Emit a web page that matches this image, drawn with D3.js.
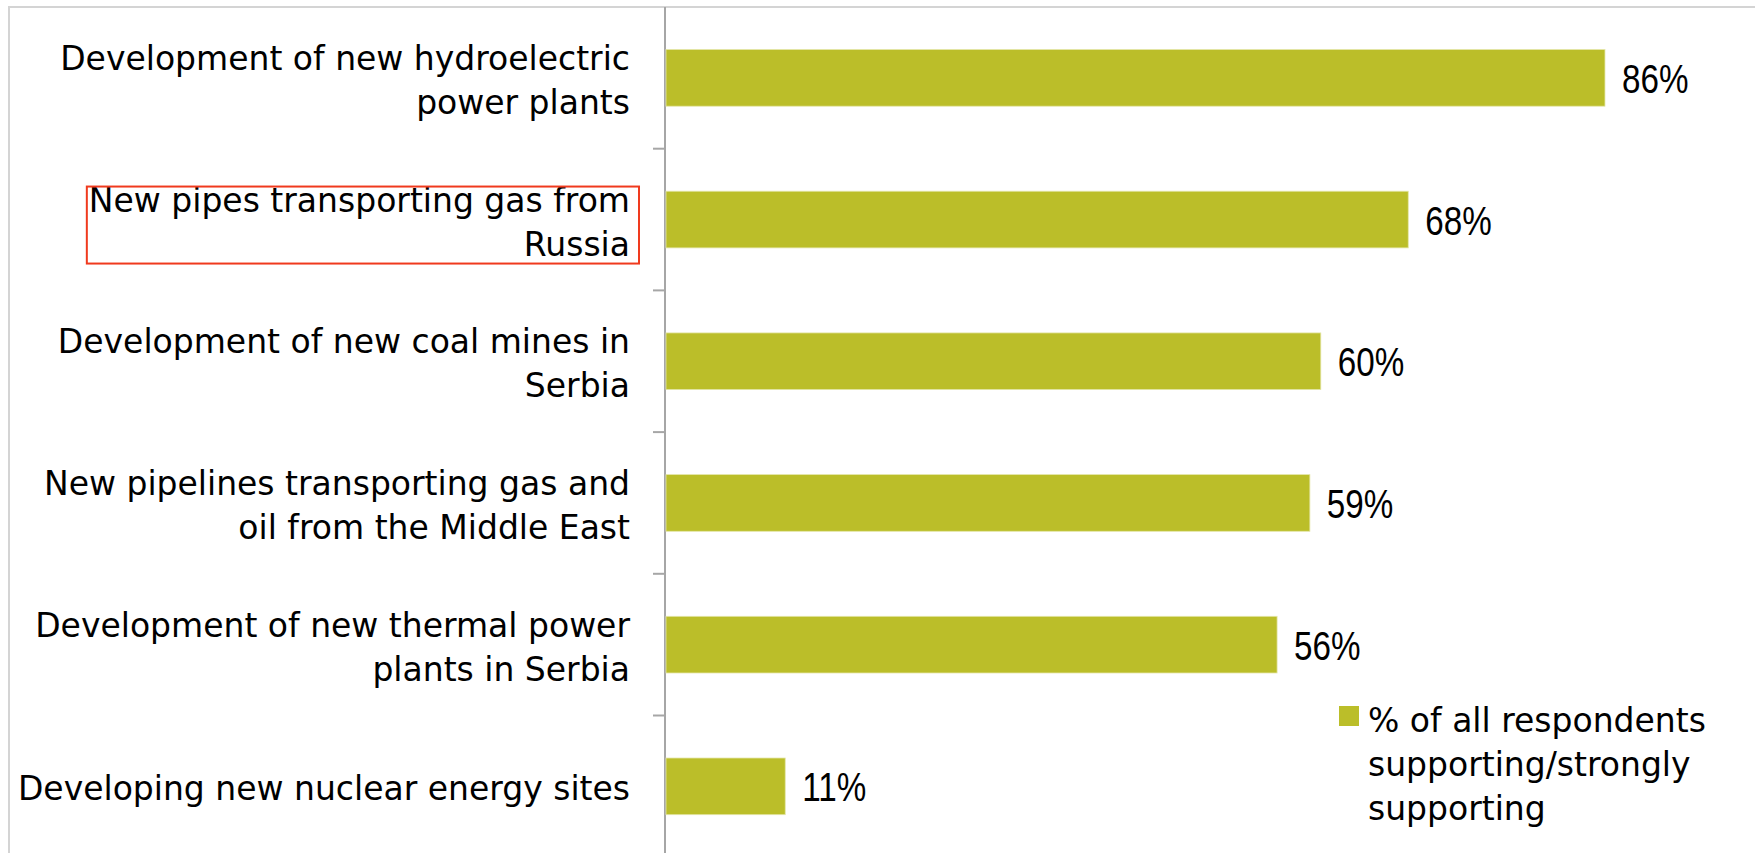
<!DOCTYPE html>
<html>
<head>
<meta charset="utf-8">
<script src="https://cdn.jsdelivr.net/npm/d3@7"></script>
<style>
  html, body { margin: 0; padding: 0; background: #ffffff; }
  svg { display: block; }
</style>
</head>
<body>
<svg id="chart" width="1755" height="853"></svg>
<script>
// Support for energy infrastructure projects
const categories = [
  "Development of new hydroelectric power plants",
  "New pipes transporting gas from Russia",
  "Development of new coal mines in Serbia",
  "New pipelines transporting gas and oil from the Middle East",
  "Development of new thermal power plants in Serbia",
  "Developing new nuclear energy sites"
];
const labelLines = [
  ["Development of new hydroelectric", "power plants"],
  ["New pipes transporting gas from", "Russia"],
  ["Development of new coal mines in", "Serbia"],
  ["New pipelines transporting gas and", "oil from the Middle East"],
  ["Development of new thermal power", "plants in Serbia"],
  ["Developing new nuclear energy sites"]
];
const support = [86, 68, 60, 59, 56, 11];
const seriesName = ["% of all respondents", "supporting/strongly", "supporting"];
const highlighted = ["New pipes transporting gas from Russia"];

const barColor = "#bbbe29";
const labelFont = "'DejaVu Sans', sans-serif";
const valueFont = "'Liberation Sans', sans-serif";

const svg = d3.select("#chart");

// frame (top and left edges visible)
svg.append("path")
  .attr("d", "M9,853 V7 H1755")
  .attr("fill", "none")
  .attr("stroke", "#d4d4d4")
  .attr("stroke-width", 2);

const x = d3.scaleLinear().domain([0, 100]).range([665, 1758]);
const y = d3.scaleBand()
  .domain(categories)
  .range([7, 857.2])
  .paddingInner(0.6)
  .paddingOuter(0.3);

const step = y.step();
const boundaries = categories.slice(1).map(c => y(c) - y.paddingInner() * step / 2);

// category axis
const axis = svg.append("g");
axis.append("line")
  .attr("x1", x(0)).attr("x2", x(0))
  .attr("y1", 7).attr("y2", 853)
  .attr("stroke", "#a6a6a6").attr("stroke-width", 2);
axis.selectAll("line.tick")
  .data(boundaries)
  .join("line")
  .attr("class", "tick")
  .attr("x1", x(0) - 12).attr("x2", x(0))
  .attr("y1", d => d).attr("y2", d => d)
  .attr("stroke", "#a6a6a6").attr("stroke-width", 2);

// bars
svg.append("g").selectAll("rect")
  .data(categories)
  .join("rect")
  .attr("x", x(0) + 1)
  .attr("y", d => y(d))
  .attr("width", (d, i) => x(support[i]) - x(0) - 1)
  .attr("height", y.bandwidth())
  .attr("fill", barColor)
  .attr("stroke", "#e4e6a8")
  .attr("stroke-width", 0.8);

// value labels (narrowed glyphs)
svg.append("g").selectAll("text")
  .data(categories)
  .join("text")
  .attr("transform", (d, i) =>
    `translate(${x(support[i]) + 17},${y(d) + y.bandwidth() / 2 + 15}) scale(0.81,1)`)
  .attr("font-family", valueFont)
  .attr("font-size", 41)
  .attr("fill", "#000")
  .text((d, i) => support[i] + "%");

// category labels
const lineH = 44;
const labels = svg.append("g").selectAll("text")
  .data(categories)
  .join("text")
  .attr("text-anchor", "end")
  .attr("font-family", labelFont)
  .attr("font-size", 33)
  .attr("fill", "#000");
labels.each(function(d, i) {
  const lines = labelLines[i];
  const cy = y(d) + y.bandwidth() / 2;
  d3.select(this).selectAll("tspan")
    .data(lines)
    .join("tspan")
    .attr("x", 630)
    .attr("y", (t, k) => cy + (k - (lines.length - 1) / 2) * lineH + 14)
    .text(t => t);
});

// outline around the highlighted category label
labels.filter(d => highlighted.includes(d)).each(function(d) {
  const bb = this.getBBox();
  const cy = y(d) + y.bandwidth() / 2;
  const left = bb.x - 2;
  svg.append("rect")
    .attr("x", left)
    .attr("y", cy - 33)
    .attr("width", 639 - left)
    .attr("height", 77)
    .attr("fill", "none")
    .attr("stroke", "#f03a1e")
    .attr("stroke-width", 2);
});

// legend
const legend = svg.append("g");
legend.append("rect")
  .attr("x", 1339).attr("y", 706)
  .attr("width", 20).attr("height", 20)
  .attr("fill", barColor);
legend.append("text")
  .attr("font-family", labelFont)
  .attr("font-size", 33)
  .attr("fill", "#000")
  .selectAll("tspan")
  .data(seriesName)
  .join("tspan")
  .attr("x", 1368)
  .attr("y", (t, k) => 732 + k * lineH)
  .text(t => t);
</script>
</body>
</html>
